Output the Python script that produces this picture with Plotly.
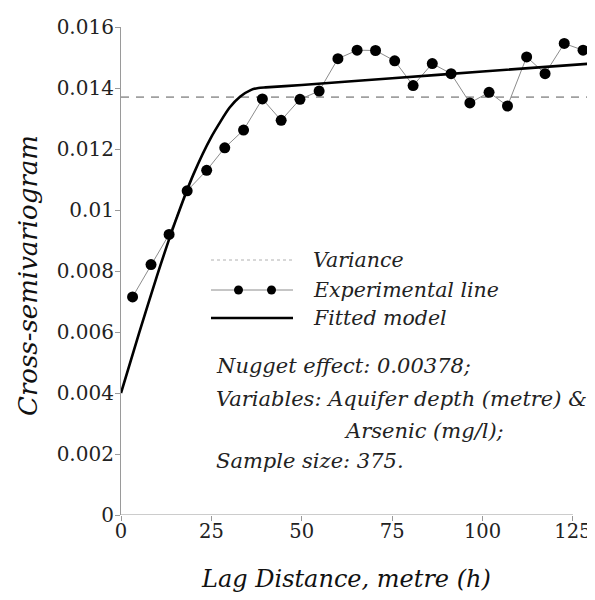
import plotly.graph_objects as go

# ---- data ----
lag = [3.2, 8.3, 13.3, 18.3, 23.7, 28.7, 33.9, 39.1, 44.3, 49.5, 54.8, 60.0, 65.3,
       70.4, 75.7, 80.8, 86.1, 91.3, 96.5, 101.8, 106.9, 112.2, 117.3, 122.6, 127.8]
gamma = [0.00715, 0.00821, 0.00920, 0.01063, 0.01130, 0.01204, 0.01262, 0.01364,
         0.01294, 0.01363, 0.01390, 0.01496, 0.01524, 0.01523, 0.01489, 0.01408,
         0.01480, 0.01447, 0.01351, 0.01386, 0.01341, 0.01502, 0.01447, 0.01546, 0.01524]
model_lag = [0, 5, 10, 15, 20, 25, 30, 33, 36, 38, 40, 50, 75, 100, 130]
model_gamma = [0.0040, 0.00596, 0.00786, 0.00961, 0.01116, 0.0124, 0.01335, 0.01372,
               0.01394, 0.0140, 0.01402, 0.0141, 0.01432, 0.01454, 0.0148]
variance = 0.0137
x_ticks = [0, 25, 50, 75, 100, 125]
y_ticks = [0, 0.002, 0.004, 0.006, 0.008, 0.01, 0.012, 0.014, 0.016]
y_tick_text = ["0", "0.002", "0.004", "0.006", "0.008", "0.01", "0.012", "0.014", "0.016"]
legend_labels = ["Variance", "Experimental line", "Fitted model"]
note_lines = ["Nugget effect: 0.00378;", "Variables: Aquifer depth (metre) &",
              "Arsenic (mg/l);", "Sample size: 375."]

# the page body adds an 8px offset; layout is given in page pixels
OFF = 8
W, H = 595 - OFF, 600 - 2 * OFF
PLOT_L, PLOT_R, PLOT_T, PLOT_B = 121, 591, 27, 515   # page pixels of the plot area
L = PLOT_L - OFF
T = PLOT_T - OFF
R = W - (PLOT_R - OFF)
B = H - (PLOT_B - OFF)
PW, PH = W - L - R, H - T - B
SERIF = "DejaVu Serif"


def px(x):
    return (x - PLOT_L) / PW


def py(y):
    return (PLOT_B - y) / PH


fig = go.Figure()
fig.add_trace(go.Scatter(x=[0, 130], y=[variance, variance], mode="lines",
                         line=dict(color="#a0a0a0", width=1.6, dash="8px,7px"),
                         hoverinfo="skip", showlegend=False))
fig.add_trace(go.Scatter(x=lag, y=gamma, mode="lines+markers",
                         line=dict(color="#8c8c8c", width=1),
                         marker=dict(color="black", size=11),
                         showlegend=False))
fig.add_trace(go.Scatter(x=model_lag, y=model_gamma, mode="lines",
                         line=dict(color="black", width=2.6, shape="spline", smoothing=0.6),
                         showlegend=False))

shapes = []
shapes.append(dict(type="line", xref="x", yref="y", x0=0, x1=125, y0=0, y1=0,
                   line=dict(color="#9a9a9a", width=1.2)))
shapes.append(dict(type="line", xref="paper", yref="paper", x0=px(211), x1=px(293),
                   y0=py(260), y1=py(260), line=dict(color="#b0b0b0", width=1, dash="dot")))
shapes.append(dict(type="line", xref="paper", yref="paper", x0=px(211), x1=px(293),
                   y0=py(290), y1=py(290), line=dict(color="#8c8c8c", width=1)))
for cx in (238.5, 271.5):
    shapes.append(dict(type="circle", xref="paper", yref="paper", xsizemode="pixel",
                       ysizemode="pixel", xanchor=px(cx), yanchor=py(290),
                       x0=-4.5, x1=4.5, y0=-4.5, y1=4.5,
                       fillcolor="black", line=dict(color="black", width=0)))
shapes.append(dict(type="line", xref="paper", yref="paper", x0=px(211), x1=px(293),
                   y0=py(318), y1=py(318), line=dict(color="black", width=2.6)))

ann = []
for lab, yy in zip(legend_labels, [260, 290, 318]):
    ann.append(dict(text="<i>" + lab + "</i>", xref="paper", yref="paper", x=px(311), y=py(yy),
                    xanchor="left", yanchor="middle", showarrow=False,
                    font=dict(family=SERIF, size=20.5, color="#222")))
for lab, xx, yy in zip(note_lines, [214, 214, 342, 214], [366, 399, 431, 461]):
    ann.append(dict(text="<i>" + lab + "</i>", xref="paper", yref="paper", x=px(xx), y=py(yy),
                    xanchor="left", yanchor="middle", showarrow=False,
                    font=dict(family=SERIF, size=21, color="#222")))
ann.append(dict(text="<i>Lag Distance, metre (h)</i>", xref="paper", yref="paper",
                x=px(346), y=py(579), xanchor="center", yanchor="middle", showarrow=False,
                font=dict(family=SERIF, size=24, color="#111")))
ann.append(dict(text="<i>Cross-semivariogram</i>", xref="paper", yref="paper",
                x=px(28), y=py(276), xanchor="center", yanchor="middle", showarrow=False,
                textangle=-90,
                font=dict(family=SERIF, size=26, color="#111")))

fig.update_layout(
    width=W, height=H, margin=dict(l=L, r=R, t=T, b=B, autoexpand=False),
    plot_bgcolor="white", paper_bgcolor="white",
    font=dict(family=SERIF),
    shapes=shapes, annotations=ann, showlegend=False,
    xaxis=dict(range=[0, 130], tickvals=x_ticks, ticktext=[str(v) for v in x_ticks],
               showgrid=False, zeroline=False, showline=False, automargin=False,
               ticks="outside", ticklen=5, tickcolor="#9a9a9a", ticklabelstandoff=-6,
               tickfont=dict(family=SERIF, size=19.5, color="#222")),
    yaxis=dict(range=[0, 0.016], tickvals=y_ticks, ticktext=y_tick_text,
               showgrid=False, zeroline=False, showline=True, linecolor="#9a9a9a",
               linewidth=1.2, ticks="outside", ticklen=5, tickcolor="#9a9a9a",
               automargin=False, ticklabelstandoff=-3,
               tickfont=dict(family=SERIF, size=20, color="#222")),
)

fig.write_html("out.html")
